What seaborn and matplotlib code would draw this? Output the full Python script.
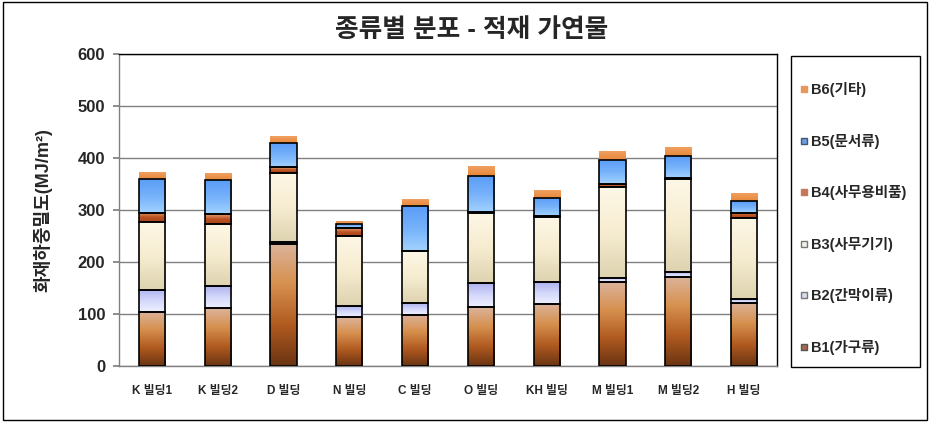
import numpy as np
import matplotlib
matplotlib.use('Agg')
import matplotlib.pyplot as plt
import seaborn as sns
from matplotlib.colors import LinearSegmentedColormap
from matplotlib.lines import Line2D
from matplotlib.patches import Rectangle

sns.set_theme(style='white')
plt.rcParams['font.family'] = ['Liberation Sans', 'Noto Sans CJK KR', 'DejaVu Sans']

buildings = ['K 빌딩1', 'K 빌딩2', 'D 빌딩', 'N 빌딩', 'C 빌딩', 'O 빌딩',
             'KH 빌딩', 'M 빌딩1', 'M 빌딩2', 'H 빌딩']
b1 = [104, 111, 235, 94, 99, 113, 120, 161, 172, 122]
b2 = [43, 42, 4, 21, 23, 46, 41, 9, 9, 6]
b3 = [130, 121, 133, 135, 99, 135, 125, 175, 178, 156]
b4 = [18, 18, 10, 15, 1, 3, 3, 5, 2, 11]
b5 = [64, 65, 46, 9, 85, 68, 35, 47, 42, 22]
b6 = [13, 13, 12, 5, 12, 18, 14, 16, 16, 14]
series = [b1, b2, b3, b4, b5, b6]
labels = ['B1(가구류)', 'B2(간막이류)', 'B3(사무기기)',
          'B4(사무용비품)', 'B5(문서류)', 'B6(기타)']

# gradient colours, top -> bottom
gradients = [
    ['#dcb49c', '#d6904e', '#b05a20', '#6a3412'],
    ['#aeb2ee', '#d4d8fa', '#eef0ff'],
    ['#fdf7e6', '#f6ecd0', '#ddd3b0'],
    ['#e4a070', '#bc5222', '#a84418'],
    ['#5a9cf8', '#76b2fa', '#a2d2ff'],
    ['#f0a060', '#e8883a'],
]
legend_face = ['#a86a4c', '#d8dcf4', '#f4f2e8', '#c8785a', '#6c9ee0', '#e8985c']
legend_edge = ['#555555', '#777777', '#777777', '#c8785a', '#445577', '#e8985c']

fig = plt.figure(figsize=(9.3, 4.22), dpi=100)
ax = fig.add_axes([0.128, 0.1327, 0.7075, 0.7393])

bottom = np.zeros(len(buildings))
for i, vals in enumerate(series):
    n0 = len(ax.patches)
    sns.barplot(x=buildings, y=vals, bottom=bottom, width=0.4, ax=ax,
                color=gradients[i][-1], saturation=1, err_kws={'linewidth': 0})
    cmap = LinearSegmentedColormap.from_list(f'g{i}', gradients[i])
    grad = np.linspace(0, 1, 256).reshape(-1, 1)
    for p in ax.patches[n0:]:
        x0, y0, w, h = p.get_x(), p.get_y(), p.get_width(), p.get_height()
        ax.imshow(grad, cmap=cmap, extent=(x0, x0 + w, y0, y0 + h),
                  origin='upper', aspect='auto', zorder=2, interpolation='bilinear')
        p.set_facecolor('none')
        p.set_zorder(3)
        if i < 5:
            p.set_edgecolor('black')
            p.set_linewidth(1.2)
        else:
            p.set_edgecolor('none')
    bottom = bottom + np.array(vals)

ax.set_xlim(-0.5, len(buildings) - 0.5)
ax.set_ylim(0, 600)
ax.set_yticks(range(0, 601, 100))
ax.yaxis.grid(True, color='#808080', linewidth=1)
ax.set_axisbelow(True)
ax.set_xticks(range(len(buildings)))
ax.set_xticklabels(buildings, fontsize=8.5, fontweight='bold')
ax.tick_params(axis='x', length=0, pad=14)
ax.tick_params(axis='y', length=4, color='#808080', left=True, labelsize=12, pad=6)
for t in ax.get_yticklabels():
    t.set_fontweight('bold')
for s in ['top', 'right']:
    ax.spines[s].set_color('black')
for s in ['left', 'bottom']:
    ax.spines[s].set_color('#808080')
for s in ax.spines.values():
    s.set_linewidth(1)
ax.set_xlabel('')
ax.set_ylabel('화재하중밀도(MJ/m²)', fontsize=13, fontweight='bold', labelpad=18)

fig.text(0.507, 0.93, '종류별 분포 - 적재 가연물', ha='center', va='center',
         fontsize=18.5, fontweight='bold')

# legend box
fig.patches.append(Rectangle((0.85, 0.131), 0.139, 0.737, transform=fig.transFigure,
                             facecolor='white', edgecolor='black', linewidth=1))
handles = [Line2D([], [], marker='s', linestyle='none', markersize=5,
                  markerfacecolor=legend_face[i], markeredgecolor=legend_edge[i])
           for i in range(6)]
fig.legend(handles[::-1], labels[::-1], loc='center', bbox_to_anchor=(0.917, 0.482),
           frameon=False, prop={'size': 10.5, 'weight': 'bold'}, labelspacing=2.5,
           handlelength=0.6, handletextpad=0.2, borderaxespad=0)

# outer border
fig.patches.append(Rectangle((0.003, 0.005), 0.994, 0.99, transform=fig.transFigure,
                             facecolor='none', edgecolor='black', linewidth=1))

fig.savefig('out.png', dpi=100)
